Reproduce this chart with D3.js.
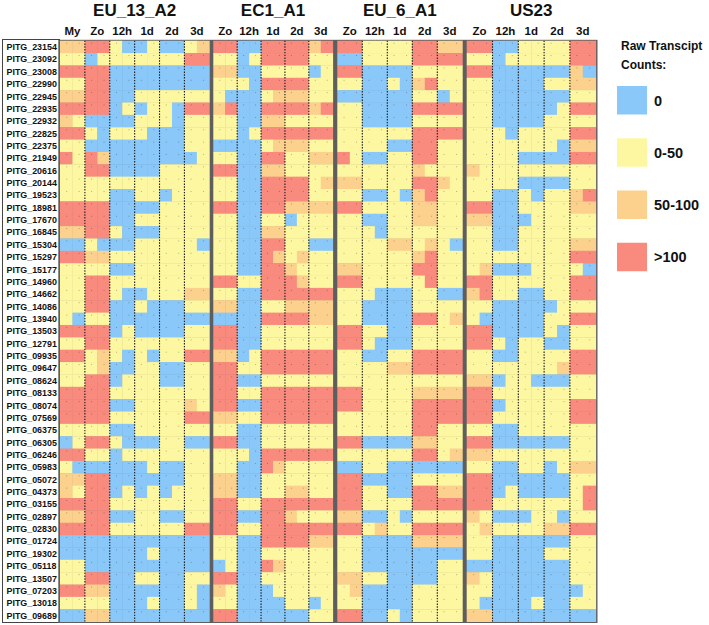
<!DOCTYPE html>
<html><head><meta charset="utf-8">
<script src="https://cdn.jsdelivr.net/npm/d3@7"></script>
<style>
body{margin:0;background:#fff;}
svg{display:block;font-family:"Liberation Sans",Arial,Helvetica,sans-serif;}
</style>
</head><body>
<svg id="chart" width="709" height="625"></svg>
<script>
// ---------------- DATA ----------------
const genes = ["PITG_23154","PITG_23092","PITG_23008","PITG_22990","PITG_22945","PITG_22935","PITG_22932","PITG_22825","PITG_22375","PITG_21949","PITG_20616","PITG_20144","PITG_19523","PITG_18981","PITG_17670","PITG_16845","PITG_15304","PITG_15297","PITG_15177","PITG_14960","PITG_14662","PITG_14086","PITG_13940","PITG_13503","PITG_12791","PITG_09935","PITG_09647","PITG_08624","PITG_08133","PITG_08074","PITG_07569","PITG_06375","PITG_06305","PITG_06246","PITG_05983","PITG_05072","PITG_04373","PITG_03155","PITG_02897","PITG_02830","PITG_01724","PITG_19302","PITG_05118","PITG_13507","PITG_07203","PITG_13018","PITG_09689"];

const strains = ["EU_13_A2","EC1_A1","EU_6_A1","US23"];
const timeEU13 = ["My","Zo","12h","1d","2d","3d"];
const timeOther = ["Zo","12h","1d","2d","3d"];
const replicates = ["r1","r2"];

// Count class per replicate cell: 0 = "0", 1 = "0-50", 2 = "50-100", 3 = ">100"
const countBins = ["0","0-50","50-100",">100"];
const legendTitle = ["Raw Transcipt","Counts:"];

// EU_13_A2 : My Zo 12h 1d 2d 3d (two replicates each)
const eu13 = [
"22 33 10 01 00 12","11 01 11 11 11 33","33 33 00 00 00 00","11 33 00 00 00 00","22 33 00 11 11 11",
"33 33 01 01 10 33","21 00 00 11 10 11","33 10 11 10 00 11","11 00 00 00 00 11","31 32 00 00 00 01",
"11 33 00 00 11 11","11 11 11 11 11 11","11 11 00 11 01 11","33 33 00 00 11 11","33 33 00 11 11 11",
"22 33 10 00 11 11","00 10 00 11 11 10","33 22 11 11 11 11","11 11 00 11 11 11","11 33 11 11 11 11",
"11 33 10 01 11 22","11 33 00 10 00 11","10 11 00 00 00 00","33 33 01 00 00 11","11 33 11 11 11 11",
"33 12 10 10 11 33","11 12 00 11 00 11","11 33 01 11 00 11","33 33 11 11 11 11","33 33 00 11 11 21",
"33 33 11 11 11 33","11 11 00 11 11 11","01 33 10 00 11 00","33 11 01 11 11 11","10 00 00 01 00 11",
"22 33 00 00 00 11","21 33 01 01 01 11","33 33 11 11 11 11","22 33 00 11 00 11","33 33 11 11 11 33",
"00 00 00 00 00 00","00 00 00 01 00 00","11 00 00 00 00 00","11 33 00 11 00 11","33 22 00 00 00 10",
"11 11 00 01 00 10","00 22 00 00 00 00"];

// EC1_A1 : Zo 12h 1d 2d 3d
const ec1 = [
"33 00 33 33 23","11 01 33 33 11","22 00 11 11 01","11 10 33 33 11","10 00 12 22 11",
"23 00 33 33 23","11 00 22 11 11","11 01 33 33 33","00 00 12 22 11","11 00 33 11 22",
"33 00 22 11 11","11 00 33 33 12","11 00 33 33 11","33 00 33 22 22","11 00 11 01 11",
"11 00 22 11 11","11 00 33 11 00","11 00 32 12 11","11 00 33 21 11","33 11 33 32 11",
"11 00 33 33 33","22 00 11 22 22","00 00 33 33 22","33 00 11 11 11","33 00 11 11 11",
"22 01 33 33 33","33 11 33 33 33","33 00 11 11 11","33 11 33 33 33","33 00 33 33 33",
"22 11 33 33 33","11 00 11 11 11","33 00 11 11 11","11 10 33 33 33","11 00 32 11 11",
"22 00 11 11 11","22 00 11 22 11","33 11 33 33 33","33 00 33 21 11","33 11 33 33 33",
"11 00 33 33 22","11 00 11 11 11","01 00 32 11 11","33 00 11 11 11","21 00 01 11 11",
"11 00 00 11 01","33 00 00 00 11"];

// EU_6_A1 : Zo 12h 1d 2d 3d
const eu6 = [
"33 11 11 33 22","00 11 11 33 33","33 00 00 11 11","11 00 10 23 11","00 00 00 11 01",
"11 00 00 33 33","11 00 00 11 11","11 11 11 33 33","11 11 00 33 11","31 00 11 33 11",
"11 11 11 21 11","22 11 11 33 21","11 00 10 23 11","33 11 11 22 11","11 00 11 22 11",
"11 10 11 11 11","11 11 22 12 10","11 11 11 23 11","22 11 11 33 11","33 11 11 13 11",
"11 10 00 11 00","11 00 00 11 11","11 00 00 33 12","33 11 00 11 11","33 10 00 11 11",
"11 00 11 33 33","11 11 22 33 33","11 11 11 11 11","33 11 11 22 22","33 11 11 33 33",
"11 11 11 33 33","11 11 11 33 11","33 00 00 22 11","11 11 11 33 12","00 11 00 00 00",
"33 00 00 11 11","33 11 00 33 22","33 11 11 33 33","22 00 10 11 11","33 12 11 33 33",
"11 00 00 22 22","11 00 00 00 00","11 00 00 00 11","22 11 00 00 11","12 00 00 11 11",
"11 00 00 11 11","33 00 10 11 11"];

// US23 : Zo 12h 1d 2d 3d
const us23 = [
"33 00 11 11 33","11 01 11 11 33","33 00 00 00 20","11 00 00 11 22","11 00 00 00 11",
"11 00 00 01 33","11 00 00 11 11","11 10 11 11 33","11 11 11 10 22","11 11 00 00 33",
"21 11 11 11 11","11 11 00 00 11","11 00 10 11 23","33 00 11 11 22","22 00 01 11 11",
"11 00 11 11 11","11 00 11 11 22","11 11 11 11 33","12 00 01 11 10","33 11 11 11 33",
"23 11 00 11 33","11 00 00 01 11","10 00 00 11 33","33 00 00 10 11","33 10 11 00 11",
"11 00 11 11 33","11 11 11 12 33","22 01 10 00 11","33 11 11 11 11","33 01 11 11 33",
"33 11 11 11 33","11 00 11 11 11","33 00 00 00 11","22 11 11 11 11","11 00 11 01 22",
"33 00 00 00 11","33 01 00 00 13","33 11 11 11 13","21 00 01 10 11","12 11 11 22 33",
"11 00 00 00 11","11 00 00 11 11","00 00 00 00 11","21 00 00 00 11","11 00 00 00 01",
"10 00 01 00 11","22 00 00 00 00"];

// ---------------- CHART ----------------
const svg = d3.select("#chart");
const colors = d3.scaleOrdinal().domain(countBins).range(["#8ac8f9","#fdf7a1","#fcd18d","#f88b7e"]);

const gridTop = 40.7, gridBottom = 621.6;
const blocks = [
  {name:strains[0], times:timeEU13, data:eu13, x0:60,    x1:209.3},
  {name:strains[1], times:timeOther, data:ec1, x0:213.3, x1:332.7},
  {name:strains[2], times:timeOther, data:eu6, x0:337.3, x1:462.3},
  {name:strains[3], times:timeOther, data:us23, x0:466.7, x1:595.7}
];

const y = d3.scaleBand().domain(genes).range([gridTop, gridBottom]);

// Label box
svg.append("rect").attr("x",2.5).attr("y",39.5).attr("width",57).attr("height",583)
  .attr("fill","#fff").attr("stroke","#444").attr("stroke-width",1);

// grid background (separators)
svg.append("rect").attr("x",58.3).attr("y",39.8).attr("width",539.2).attr("height",583.2)
  .attr("fill","#5e5e5e");

const cellsG = svg.append("g");
const dotsG = svg.append("g");
const linesG = svg.append("g");
const labG = svg.append("g");

blocks.forEach(b => {
  const xt = d3.scaleBand().domain(b.times).range([b.x0, b.x1]);
  const xr = d3.scaleBand().domain(replicates).range([0, xt.bandwidth()]);
  const cells = [];
  b.data.forEach((row, gi) => {
    const s = row.replace(/ /g, "");
    b.times.forEach((t, ti) => {
      replicates.forEach((r, ri) => {
        cells.push({gene: genes[gi], time: t, rep: r, bin: countBins[+s[ti*2 + ri]]});
      });
    });
  });
  cellsG.selectAll(null).data(cells).enter().append("rect")
    .attr("x", d => xt(d.time) + xr(d.rep))
    .attr("y", d => y(d.gene))
    .attr("width", xr.bandwidth() + 0.4)
    .attr("height", y.bandwidth() + 0.4)
    .attr("fill", d => colors(d.bin));
  dotsG.selectAll(null).data(cells).enter().append("rect")
    .attr("x", d => xt(d.time) + xr(d.rep) + xr.bandwidth()/2)
    .attr("y", d => y(d.gene) + 2)
    .attr("width", 1).attr("height", 1)
    .attr("fill", "#000").attr("opacity", 0.28);
  linesG.selectAll(null).data(b.times.slice(1)).enter().append("line")
    .attr("x1", t => xt(t)).attr("x2", t => xt(t))
    .attr("y1", gridTop).attr("y2", gridBottom)
    .attr("stroke", "#1a1a1a").attr("stroke-width", 1.1)
    .attr("stroke-dasharray", "1.4,1.4");
  labG.append("text").attr("x", (b.x0 + b.x1)/2).attr("y", 16)
    .attr("text-anchor","middle").attr("font-weight","bold").attr("font-size",17)
    .attr("fill","#111").text(b.name);
  labG.selectAll(null).data(b.times).enter().append("text")
    .attr("x", t => xt(t) + xt.bandwidth()/2).attr("y", 35)
    .attr("text-anchor","middle").attr("font-weight","bold").attr("font-size",11.5)
    .attr("fill","#111").text(t => t);
});

// gene labels
labG.selectAll(null).data(genes).enter().append("text")
  .attr("x", 6.5).attr("y", g => y(g) + y.bandwidth()/2 + 3.2)
  .attr("font-weight","bold").attr("font-size",8.9).attr("fill","#111")
  .text(g => g);

// Legend
const lg = svg.append("g");
lg.selectAll(null).data(legendTitle).enter().append("text")
  .attr("x", 621).attr("y", (d,i) => 50 + i*18.5)
  .attr("font-weight","bold").attr("font-size",12).attr("fill","#111").text(d => d);
const ly = d3.scaleBand().domain(countBins).range([86, 295]);
lg.selectAll(null).data(countBins).enter().append("rect")
  .attr("x", 617).attr("y", d => ly(d)).attr("width", 30).attr("height", 28.5)
  .attr("fill", d => colors(d));
lg.selectAll(null).data(countBins).enter().append("text")
  .attr("x", 654).attr("y", d => ly(d) + 19.5)
  .attr("font-weight","bold").attr("font-size",14.5).attr("fill","#111").text(d => d);
</script>
</body></html>
